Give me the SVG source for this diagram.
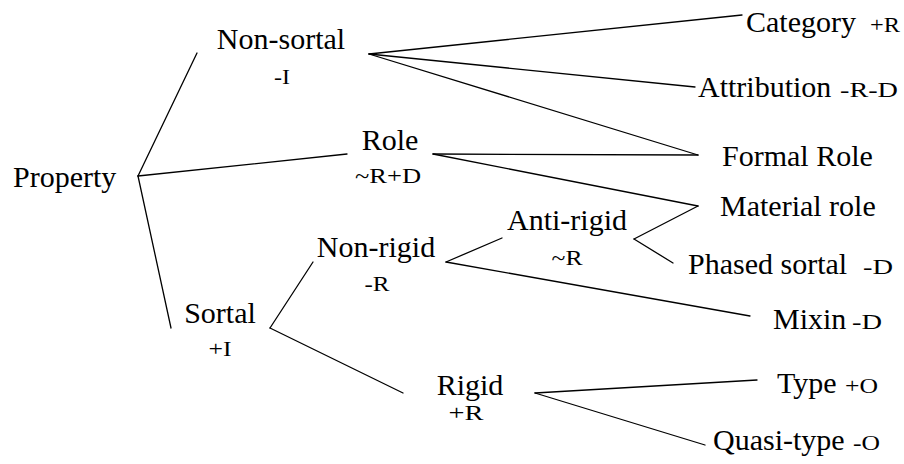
<svg xmlns="http://www.w3.org/2000/svg" width="904" height="464" viewBox="0 0 904 464">
<style>
text{font-family:'Liberation Serif','Times New Roman',serif;fill:#000;}
.m{font-size:30px;}
.s{font-size:22px;}
.c{text-anchor:middle;}
line{stroke:#000;stroke-width:1.3;stroke-linecap:round;}
</style>
<rect width="904" height="464" fill="#fff"/>
<g id="connectors">
<line x1="138" y1="176" x2="197" y2="53"/>
<line x1="138" y1="176" x2="347" y2="154"/>
<line x1="138" y1="176" x2="171" y2="328"/>
<line x1="369" y1="54" x2="742" y2="15"/>
<line x1="369" y1="54" x2="695" y2="87"/>
<line x1="369" y1="54" x2="698" y2="155"/>
<line x1="433" y1="154" x2="698" y2="155"/>
<line x1="433" y1="154" x2="698" y2="206"/>
<line x1="634" y1="239" x2="698" y2="206"/>
<line x1="634" y1="239" x2="673" y2="263"/>
<line x1="446" y1="262" x2="502" y2="238"/>
<line x1="446" y1="262" x2="750" y2="316"/>
<line x1="270" y1="328" x2="313" y2="262"/>
<line x1="270" y1="328" x2="403" y2="393"/>
<line x1="535" y1="393" x2="757" y2="380"/>
<line x1="535" y1="393" x2="705" y2="445"/>
</g>
<g id="property"><text class="m" x="13" y="187">Property</text></g>
<g id="non-sortal"><text class="m c" x="281" y="49">Non-sortal</text><text class="s c" x="282" y="84" textLength="16" lengthAdjust="spacingAndGlyphs">-I</text></g>
<g id="role"><text class="m c" x="390" y="150">Role</text><text class="s c" x="388" y="183" textLength="66" lengthAdjust="spacingAndGlyphs">~R+D</text></g>
<g id="sortal"><text class="m c" x="220" y="323">Sortal</text><text class="s c" x="220" y="356" textLength="23" lengthAdjust="spacingAndGlyphs">+I</text></g>
<g id="non-rigid"><text class="m c" x="376" y="257">Non-rigid</text><text class="s c" x="377" y="291" textLength="25" lengthAdjust="spacingAndGlyphs">-R</text></g>
<g id="anti-rigid"><text class="m c" x="567" y="230">Anti-rigid</text><text class="s c" x="567" y="265" textLength="31" lengthAdjust="spacingAndGlyphs">~R</text></g>
<g id="rigid"><text class="m c" x="470" y="395">Rigid</text><text class="s c" x="466" y="420" textLength="35" lengthAdjust="spacingAndGlyphs">+R</text></g>
<g id="category"><text class="m" x="746" y="32">Category</text><text class="s" x="870" y="32" textLength="30" lengthAdjust="spacingAndGlyphs">+R</text></g>
<g id="attribution"><text class="m" x="698" y="97">Attribution</text><text class="s" x="840" y="97" textLength="58" lengthAdjust="spacingAndGlyphs">-R-D</text></g>
<g id="formal-role"><text class="m" x="722" y="166">Formal Role</text></g>
<g id="material-role"><text class="m" x="720" y="216">Material role</text></g>
<g id="phased-sortal"><text class="m" x="688" y="274">Phased sortal</text><text class="s" x="863" y="274" textLength="30" lengthAdjust="spacingAndGlyphs">-D</text></g>
<g id="mixin"><text class="m" x="773" y="329">Mixin</text><text class="s" x="852" y="329" textLength="30" lengthAdjust="spacingAndGlyphs">-D</text></g>
<g id="type"><text class="m" x="777" y="393">Type</text><text class="s" x="845" y="393" textLength="33" lengthAdjust="spacingAndGlyphs">+O</text></g>
<g id="quasi-type"><text class="m" x="713" y="450">Quasi-type</text><text class="s" x="853" y="450" textLength="27" lengthAdjust="spacingAndGlyphs">-O</text></g>
</svg>
